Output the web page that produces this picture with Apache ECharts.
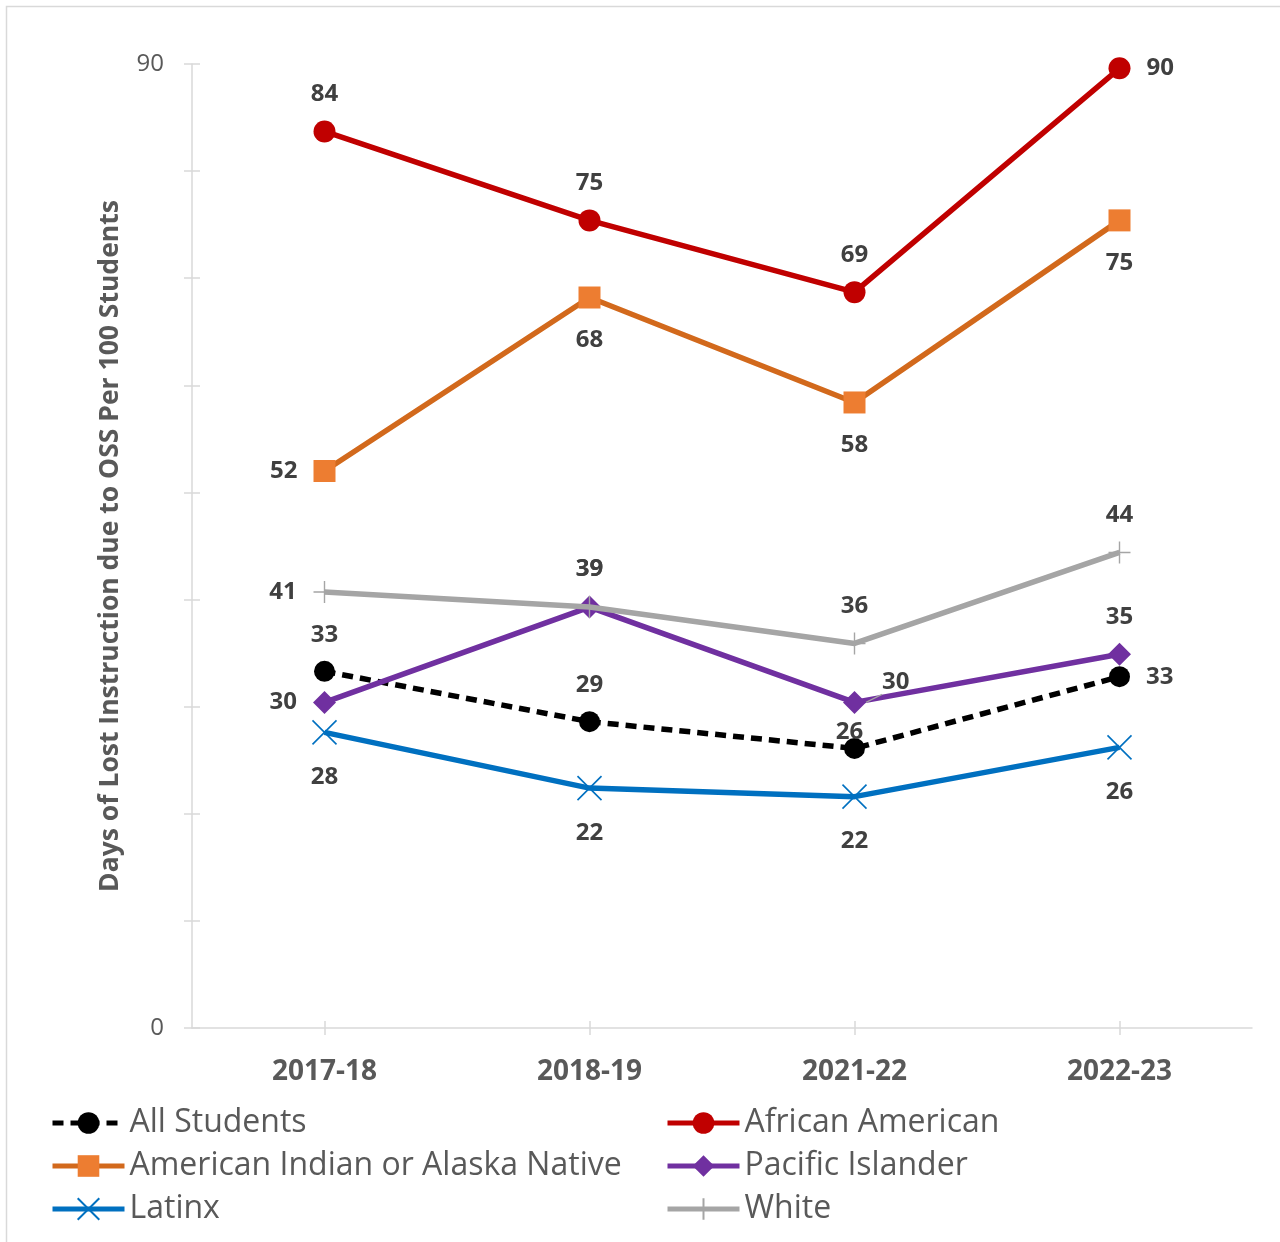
<!DOCTYPE html>
<html>
<head>
<meta charset="utf-8">
<script src="https://cdn.jsdelivr.net/npm/echarts@6/dist/echarts.min.js"></script>
<style>
html,body{margin:0;padding:0;background:#fff;}
#chart{width:1280px;height:1242px;}
</style>
</head>
<body>
<div id="chart"></div>
<script>
const categories = ['2017-18', '2018-19', '2021-22', '2022-23'];
const allStudents = [33.3, 28.6, 26.1, 32.8];
const africanAmerican = [83.7, 75.4, 68.7, 89.6];
const americanIndian = [52.0, 68.2, 58.4, 75.4];
const pacificIslander = [30.4, 39.3, 30.4, 34.9];
const latinx = [27.6, 22.4, 21.6, 26.2];
const white = [40.7, 39.3, 35.9, 44.4];
const yTickLabels = ['0', '90'];

const FONT = 'Open Sans';
const LABEL_COLOR = '#404040';
const AXIS_TEXT = '#595959';
const AXIS_LINE = '#D9D9D9';
const LINE_W = 5.5;

// label placement per series (style only)
const placements = {
  'All Students': ['top', 'top', 'top', 'right'],
  'African American': ['top', 'top', 'top', 'right'],
  'American Indian or Alaska Native': ['left', 'bottom', 'bottom', 'bottom'],
  'Pacific Islander': ['left', 'top', 'right', 'top'],
  'Latinx': ['bottom', 'bottom', 'bottom', 'bottom'],
  'White': ['left', 'top', 'top', 'top']
};
const distFor = { top: 14, bottom: 20, left: 16, right: 16 };

function buildData(name, values) {
  return values.map(function (v, i) {
    const pos = placements[name][i];
    const item = { value: v, label: { position: pos, distance: distFor[pos] } };
    if (name === 'All Students' && i === 2) {
      item.label.offset = [-5, 20];
    }
    if (name === 'Pacific Islander' && i === 2) {
      item.label.offset = [0, -20];
      item.labelLine = { show: true, lineStyle: { color: '#A5A5A5', width: 1.2 } };
    }
    return item;
  });
}

const baseLabel = {
  show: true,
  formatter: function (p) { return Math.round(p.value); },
  fontFamily: FONT,
  fontWeight: 'bold',
  fontSize: 24,
  color: LABEL_COLOR
};

function mkSeries(name, values, opts) {
  return Object.assign({
    name: name,
    type: 'line',
    data: buildData(name, values),
    label: baseLabel,
    emphasis: { disabled: true },
    animation: false,
    z: opts.zOrder
  }, opts.extra);
}

const series = [
  mkSeries('All Students', allStudents, { zOrder: 2, extra: {
    symbol: 'circle', symbolSize: 21,
    lineStyle: { color: '#000000', width: LINE_W, type: [11, 7] },
    itemStyle: { color: '#000000' }
  }}),
  mkSeries('African American', africanAmerican, { zOrder: 3, extra: {
    symbol: 'circle', symbolSize: 22,
    lineStyle: { color: '#C00000', width: LINE_W },
    itemStyle: { color: '#C00000' }
  }}),
  mkSeries('American Indian or Alaska Native', americanIndian, { zOrder: 4, extra: {
    symbol: 'rect', symbolSize: 22,
    lineStyle: { color: '#D2691C', width: LINE_W },
    itemStyle: { color: '#ED7D31' }
  }}),
  mkSeries('Pacific Islander', pacificIslander, { zOrder: 5, extra: {
    symbol: 'diamond', symbolSize: 23,
    lineStyle: { color: '#7030A0', width: LINE_W },
    itemStyle: { color: '#7030A0' }
  }}),
  mkSeries('Latinx', latinx, { zOrder: 6, extra: {
    symbol: 'path://M0,0L10,10M10,0L0,10', symbolSize: 24,
    lineStyle: { color: '#0070C0', width: LINE_W },
    itemStyle: { color: '#0070C0', borderColor: '#0070C0', borderWidth: 1.6 }
  }}),
  mkSeries('White', white, { zOrder: 7, extra: {
    symbol: 'path://M5,0L5,10M0,5L10,5', symbolSize: 22,
    lineStyle: { color: '#A5A5A5', width: LINE_W },
    itemStyle: { color: '#A5A5A5', borderColor: '#A5A5A5', borderWidth: 1.4 }
  }})
];

const legendCommon = {
  orient: 'vertical',
  itemWidth: 72,
  itemHeight: 27,
  itemGap: 11,
  padding: 0,
  lineStyle: { width: 5 },
  textStyle: { fontFamily: FONT, fontSize: 32, color: AXIS_TEXT },
  selectedMode: false
};

const option = {
  backgroundColor: '#ffffff',
  animation: false,
  graphic: [{
    type: 'rect', left: 4, top: 4,
    shape: { width: 1300, height: 1260 },
    style: { fill: 'none', stroke: '#D9D9D9', lineWidth: 1.5 },
    silent: true
  }],
  grid: { left: 192, right: 28, top: 64, bottom: 214, containLabel: false },
  xAxis: [{
    type: 'category',
    data: categories,
    boundaryGap: true,
    axisLine: { show: true, lineStyle: { color: AXIS_LINE, width: 1.5 } },
    axisTick: { show: true, alignWithLabel: true, length: 7, lineStyle: { color: AXIS_LINE, width: 1.5 } },
    axisLabel: { fontFamily: FONT, fontWeight: 'bold', fontSize: 28, color: AXIS_TEXT, margin: 30 },
    splitLine: { show: false }
  }, {
    type: 'category',
    data: categories,
    position: 'bottom',
    boundaryGap: true,
    axisLine: { show: false },
    axisTick: { show: true, inside: true, alignWithLabel: true, length: 7, lineStyle: { color: AXIS_LINE, width: 1.5 } },
    axisLabel: { show: false },
    splitLine: { show: false }
  }],
  yAxis: [{
    type: 'value',
    min: 0, max: 90, interval: 10,
    name: 'Days of Lost Instruction due to OSS Per 100 Students',
    nameLocation: 'middle',
    nameGap: 68,
    nameRotate: 90,
    nameTextStyle: { fontFamily: FONT, fontWeight: 'bold', fontSize: 26.5, color: AXIS_TEXT },
    axisLine: { show: true, lineStyle: { color: AXIS_LINE, width: 1.5 } },
    axisTick: { show: true, length: 8, lineStyle: { color: AXIS_LINE, width: 1.5 } },
    axisLabel: {
      fontFamily: FONT, fontSize: 24, color: AXIS_TEXT, margin: 28,
      formatter: function (v) { return yTickLabels.indexOf(String(v)) >= 0 ? String(v) : ''; }
    },
    splitLine: { show: false }
  }, {
    type: 'value',
    min: 0, max: 90, interval: 10,
    position: 'left',
    axisLine: { show: false },
    axisTick: { show: true, inside: true, length: 8, lineStyle: { color: AXIS_LINE, width: 1.5 } },
    axisLabel: { show: false },
    splitLine: { show: false }
  }],
  legend: [
    Object.assign({ left: 50, top: 1107, data: ['All Students', 'American Indian or Alaska Native', 'Latinx'] }, legendCommon),
    Object.assign({ left: 665, top: 1107, data: ['African American', 'Pacific Islander', 'White'] }, legendCommon)
  ],
  series: series
};

const chart = echarts.init(document.getElementById('chart'), null, { renderer: 'canvas' });
chart.setOption(option);
</script>
</body>
</html>
